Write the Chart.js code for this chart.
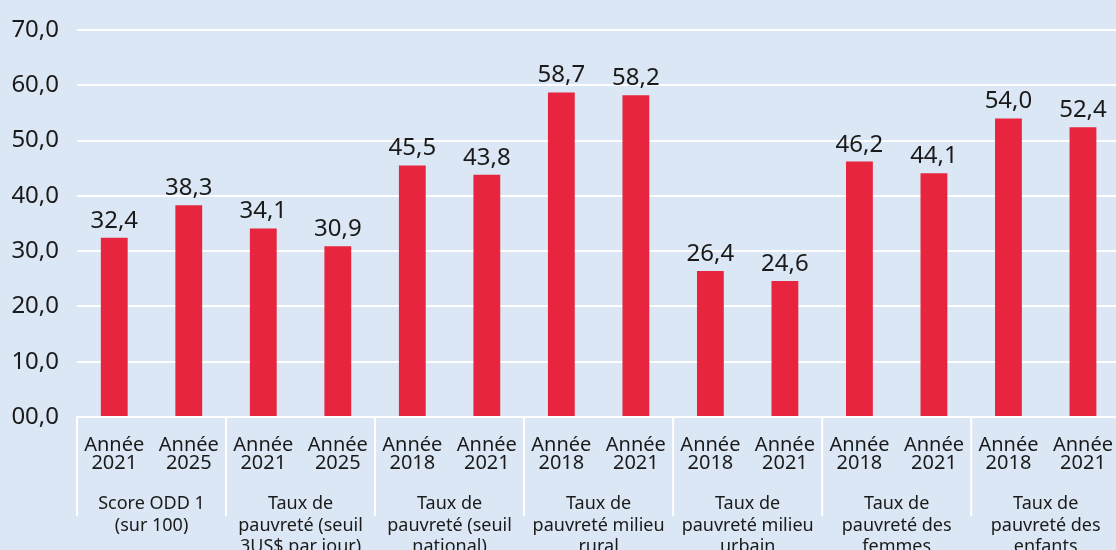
<!DOCTYPE html>
<html>
<head>
<meta charset="utf-8">
<script src="https://cdn.jsdelivr.net/npm/chart.js"></script>
<style>
    html, body { margin: 0; padding: 0; background: #dbe7f4; overflow: hidden; }
    #wrap { width: 1124px; height: 569px; }
</style>
</head>
<body>
<div id="wrap"><canvas id="povertyChart"></canvas></div>
<script>
    const groups = [
        ['Score ODD 1', '(sur 100)'],
        ['Taux de', 'pauvreté (seuil', '3US$ par jour)'],
        ['Taux de', 'pauvreté (seuil', 'national)'],
        ['Taux de', 'pauvreté milieu', 'rural'],
        ['Taux de', 'pauvreté milieu', 'urbain'],
        ['Taux de', 'pauvreté des', 'femmes'],
        ['Taux de', 'pauvreté des', 'enfants']
    ];
    const years = ['2021', '2025', '2021', '2025', '2018', '2021', '2018', '2021', '2018', '2021', '2018', '2021', '2018', '2021'];
    const values = [32.4, 38.3, 34.1, 30.9, 45.5, 43.8, 58.7, 58.2, 26.4, 24.6, 46.2, 44.1, 54.0, 52.4];
    const yTicks = [0, 10, 20, 30, 40, 50, 60, 70];

    const textColor = '#1a1a1a';
    const barColor = '#e8253f';
    const fontFamily = '"Noto Sans", "Open Sans", sans-serif';

    const fmt = (v) => v === 0 ? '00,0' : v.toFixed(1).replace('.', ',');

    // value labels above the bars + white separators between groups
    const extras = {
        id: 'extras',
        afterDatasetsDraw(chart) {
            const ctx = chart.ctx;
            const meta = chart.getDatasetMeta(0);
            ctx.save();
            ctx.fillStyle = textColor;
            ctx.font = '24px ' + fontFamily;
            ctx.textAlign = 'center';
            ctx.textBaseline = 'alphabetic';
            meta.data.forEach((bar, i) => {
                ctx.fillText(fmt(values[i]), bar.x, bar.y - 10);
            });
            ctx.restore();
        },
        afterDraw(chart) {
            const ctx = chart.ctx;
            const xs = chart.scales.x;
            const ys = chart.scales.y;
            ctx.save();
            ctx.strokeStyle = '#ffffff';
            ctx.lineWidth = 2;
            for (let g = 0; g <= groups.length; g++) {
                const x = xs.getPixelForValue(g * 2 - 0.5);
                ctx.beginPath();
                ctx.moveTo(x, ys.bottom);
                ctx.lineTo(x, ys.bottom + 99);
                ctx.stroke();
            }
            ctx.restore();
        }
    };

    new Chart(document.getElementById('povertyChart'), {
        type: 'bar',
        data: {
            labels: years.map((y) => ['Année', y]),
            datasets: [{
                data: values,
                backgroundColor: barColor,
                barPercentage: 0.36,
                categoryPercentage: 1
            }]
        },
        options: {
            responsive: true,
            maintainAspectRatio: false,
            animation: false,
            layout: { padding: { top: 30, right: 0, left: 0, bottom: 0 } },
            plugins: { legend: { display: false }, tooltip: { enabled: false } },
            scales: {
                x: {
                    offset: true,
                    grid: { display: false },
                    border: { display: true, color: '#ffffff', width: 2 },
                    ticks: {
                        color: textColor,
                        font: { family: fontFamily, size: 20, lineHeight: 0.9 },
                        padding: 11,
                        maxRotation: 0,
                        autoSkip: false
                    },
                    afterFit(scale) { scale.height = 68; }
                },
                x2: {
                    type: 'category',
                    labels: groups,
                    position: 'bottom',
                    offset: true,
                    grid: { display: false },
                    border: { display: false },
                    ticks: {
                        color: textColor,
                        font: { family: fontFamily, size: 18, lineHeight: 1.2 },
                        padding: 0,
                        maxRotation: 0,
                        autoSkip: false
                    },
                    afterFit(scale) { scale.height = 84; }
                },
                y: {
                    min: 0,
                    max: 70,
                    afterBuildTicks(scale) { scale.ticks = yTicks.map((v) => ({ value: v })); },
                    grid: { color: '#ffffff', lineWidth: 2, drawTicks: false },
                    border: { display: false },
                    ticks: {
                        color: textColor,
                        font: { family: fontFamily, size: 24 },
                        padding: 18,
                        callback: (v) => fmt(v)
                    },
                    afterFit(scale) { scale.width = 77; scale.paddingTop = 0; }
                }
            }
        },
        plugins: [extras]
    });
</script>
</body>
</html>
